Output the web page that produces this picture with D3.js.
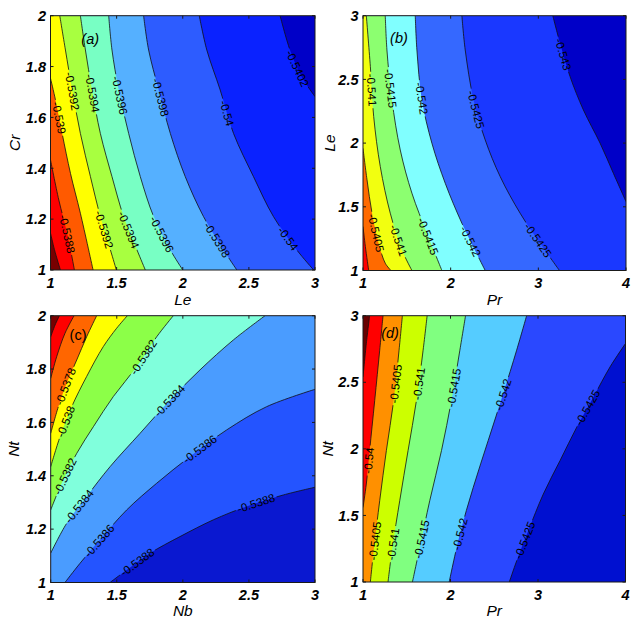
<!DOCTYPE html>
<html><head><meta charset="utf-8">
<script src="https://cdn.jsdelivr.net/npm/d3@7"></script>
<style>body{margin:0;background:#fff}svg{display:block}</style>
</head><body>
<svg id="chart" width="640" height="626"></svg>
<script>
// ================= DATA =================
// Panel (a): Cr vs Le
const aXLabel = "Le", aYLabel = "Cr", aTag = "(a)";
const aXDomain = [1, 3], aYDomain = [1, 2];
const aXTicks = [1, 1.5, 2, 2.5, 3];
const aYTicks = [1, 1.2, 1.4, 1.6, 1.8, 2];
const aLevels = [-0.5386, -0.5388, -0.539, -0.5392, -0.5394, -0.5396, -0.5398, -0.54, -0.5402];
const aLines = [
  [[1,1.145],[1.03,1.08],[1.075,1]],
  [[1,1.433],[1.063,1.275],[1.126,1.144],[1.181,1]],
  [[1,1.754],[1.038,1.668],[1.088,1.537],[1.151,1.38],[1.226,1.223],[1.322,1]],
  [[1.07,2],[1.113,1.865],[1.164,1.708],[1.226,1.537],[1.302,1.367],[1.377,1.21],[1.453,1.079],[1.498,1]],
  [[1.226,2],[1.264,1.865],[1.314,1.708],[1.377,1.537],[1.465,1.367],[1.553,1.21],[1.654,1.079],[1.717,1]],
  [[1.44,2],[1.465,1.865],[1.516,1.708],[1.591,1.537],[1.679,1.367],[1.78,1.21],[1.906,1.079],[2.0,1]],
  [[1.704,2],[1.742,1.865],[1.818,1.708],[1.906,1.537],[2.019,1.367],[2.157,1.21],[2.308,1.079],[2.409,1]],
  [[2.125,2],[2.182,1.865],[2.283,1.708],[2.384,1.537],[2.535,1.367],[2.686,1.21],[2.862,1.079],[2.99,1]],
  [[2.736,2],[2.811,1.865],[2.899,1.76],[3,1.682]]
];
const aLabels = [[2,1.038,1.596],[3,1.151,1.701],[4,1.314,1.695],[5,1.541,1.688],[6,1.855,1.682],[7,2.333,1.616],[8,2.899,1.8],
  [1,1.10,1.138],[3,1.39,1.157],[4,1.591,1.157],[5,1.881,1.151],[6,2.258,1.118],[7,2.799,1.125]];

// Panel (b): Le vs Pr
const bXLabel = "Pr", bYLabel = "Le", bTag = "(b)";
const bXDomain = [1, 4], bYDomain = [1, 3];
const bXTicks = [1, 2, 3, 4];
const bYTicks = [1, 1.5, 2, 2.5, 3];
const bLevels = [-0.54, -0.5405, -0.541, -0.5415, -0.542, -0.5425, -0.543];
const bLines = [
  [[1,1.345],[1.027,1.188],[1.065,1]],
  [[1,1.959],[1.046,1.711],[1.103,1.45],[1.178,1.214],[1.254,1.057],[1.319,1]],
  [[1.038,3],[1.084,2.6],[1.122,2.208],[1.197,1.816],[1.311,1.45],[1.444,1.162],[1.558,1]],
  [[1.254,3],[1.273,2.731],[1.33,2.339],[1.425,1.946],[1.558,1.607],[1.729,1.293],[1.9,1]],
  [[1.596,3],[1.615,2.731],[1.672,2.339],[1.786,1.999],[1.938,1.685],[2.128,1.371],[2.394,1]],
  [[2.128,3],[2.166,2.731],[2.261,2.339],[2.394,2.025],[2.565,1.737],[2.792,1.45],[3.02,1.214],[3.241,1]],
  [[3.165,3],[3.248,2.783],[3.362,2.522],[3.514,2.26],[3.704,2.0],[3.856,1.763],[4,1.541]]
];
const bLabels = [[2,1.084,2.417],[3,1.311,2.43],[4,1.672,2.352],[5,2.261,2.26],[6,3.248,2.691],
  [1,1.141,1.293],[2,1.406,1.24],[3,1.691,1.254],[4,2.185,1.214],[5,2.944,1.214]];

// Panel (c): Nt vs Nb
const cXLabel = "Nb", cYLabel = "Nt", cTag = "(c)";
const cXDomain = [1, 3], cYDomain = [1, 2];
const cXTicks = [1, 1.5, 2, 2.5, 3];
const cYTicks = [1, 1.2, 1.4, 1.6, 1.8, 2];
const cLevels = [-0.5374, -0.5376, -0.5378, -0.538, -0.5382, -0.5384, -0.5386, -0.5388];
const cLines = [
  [[1,1.921],[1.033,1.965],[1.066,2]],
  [[1,1.765],[1.045,1.846],[1.108,1.934],[1.177,2]],
  [[1,1.559],[1.058,1.659],[1.121,1.747],[1.197,1.834],[1.272,1.921],[1.348,2]],
  [[1,1.434],[1.071,1.547],[1.159,1.659],[1.272,1.772],[1.398,1.884],[1.499,1.953],[1.58,2]],
  [[1,1.272],[1.083,1.372],[1.197,1.484],[1.323,1.584],[1.474,1.697],[1.651,1.809],[1.802,1.921],[1.928,2]],
  [[1,1.11],[1.121,1.222],[1.272,1.322],[1.449,1.434],[1.676,1.559],[1.903,1.684],[2.13,1.797],[2.382,1.909],[2.622,2]],
  [[1.108,1],[1.222,1.072],[1.373,1.16],[1.575,1.272],[1.802,1.372],[2.054,1.472],[2.332,1.572],[2.634,1.659],[3,1.724]],
  [[1.449,1],[1.575,1.047],[1.752,1.11],[1.978,1.172],[2.231,1.235],[2.483,1.285],[2.76,1.328],[3,1.357]]
];
const cLabels = [[2,1.146,1.728],[3,1.171,1.591],[4,1.159,1.385],[4,1.714,1.84],[5,1.235,1.278],[5,1.865,1.697],
  [6,1.361,1.16],[6,2.117,1.509],[7,1.663,1.072],[7,2.546,1.31]];

// Panel (d): Nt vs Pr
const dXLabel = "Pr", dYLabel = "Nt", dTag = "(d)";
const dXDomain = [1, 4], dYDomain = [1, 3];
const dXTicks = [1, 2, 3, 4];
const dYTicks = [1, 1.5, 2, 2.5, 3];
const dLevels = [-0.5395, -0.54, -0.5405, -0.541, -0.5415, -0.542, -0.5425];
const dLines = [
  [[1.076,3],[1.038,2.791],[1,2.54]],
  [[1.229,3],[1.191,2.741],[1.134,2.364],[1.076,1.987],[1.038,1.736],[1,1.56]],
  [[1.45,3],[1.412,2.741],[1.351,2.364],[1.267,1.987],[1.191,1.611],[1.126,1.259],[1.084,1]],
  [[1.733,3],[1.687,2.741],[1.611,2.364],[1.515,1.987],[1.42,1.611],[1.336,1.259],[1.286,1]],
  [[2.172,3],[2.107,2.741],[2.011,2.364],[1.897,1.987],[1.763,1.611],[1.649,1.259],[1.565,1]],
  [[2.87,3],[2.756,2.741],[2.603,2.415],[2.431,2.063],[2.26,1.711],[2.107,1.359],[1.985,1]],
  [[4,2.791],[3.824,2.616],[3.634,2.389],[3.443,2.163],[3.252,1.912],[3.061,1.661],[2.889,1.384],[2.756,1.158],[2.672,1]]
];
const dLabels = [[1,1.076,1.912],[2,1.324,2.49],[2,1.134,1.309],[3,1.611,2.49],[3,1.363,1.284],[4,1.992,2.465],
  [4,1.649,1.322],[5,2.565,2.415],[5,2.107,1.359],[6,3.557,2.314],[6,2.87,1.309]];

// ================= STYLE / LAYOUT =================
const aColors = ["#780000","#ff0000","#ff5a00","#ffff00","#a8ff40","#78ffc4","#55b0ff","#2d5cff","#0a22ff","#0000c8"];
const bColors = ["#ff0000","#ff6a00","#f2ff10","#8cff70","#80ffff","#3568ff","#1a38ff","#0000c8"];
const cColors = ["#780000","#ff0000","#ff6600","#ffff00","#8cff48","#80ffdc","#4a9cff","#2454ff","#0a18d0"];
const dColors = ["#680000","#ff0000","#ff9000","#ccff00","#80ff80","#55ccff","#2a48ff","#0010d0"];

const panels = [
  {xLabel:aXLabel, yLabel:aYLabel, tag:aTag, tagPos:[1.30,1.91], tagItalic:true, xDomain:aXDomain, yDomain:aYDomain,
   xTicks:aXTicks, yTicks:aYTicks, levels:aLevels, lines:aLines, labels:aLabels, colors:aColors, anchor:0,
   box:[50.5,315,15.7,270], xLabelY:304.5, yLabelX:14},
  {xLabel:bXLabel, yLabel:bYLabel, tag:bTag, tagPos:[1.41,2.825], tagItalic:true, xDomain:bXDomain, yDomain:bYDomain,
   xTicks:bXTicks, yTicks:bYTicks, levels:bLevels, lines:bLines, labels:bLabels, colors:bColors, anchor:0,
   box:[363,626,15.7,270.5], xLabelY:304.5, yLabelX:329},
  {xLabel:cXLabel, yLabel:cYLabel, tag:cTag, tagPos:[1.207,1.928], tagItalic:false, xDomain:cXDomain, yDomain:cYDomain,
   xTicks:cXTicks, yTicks:cYTicks, levels:cLevels, lines:cLines, labels:cLabels, colors:cColors, anchor:3,
   box:[50.7,315,315.7,582.5], xLabelY:616, yLabelX:13},
  {xLabel:dXLabel, yLabel:dYLabel, tag:dTag, tagPos:[1.309,2.87], tagItalic:true, xDomain:dXDomain, yDomain:dYDomain,
   xTicks:dXTicks, yTicks:dYTicks, levels:dLevels, lines:dLines, labels:dLabels, colors:dColors, anchor:3,
   box:[363,625.5,315.7,582], xLabelY:616, yLabelX:327}
];

const FONT = "'Liberation Sans', Arial, Helvetica, sans-serif";
const svg = d3.select("#chart");
svg.append("rect").attr("width",640).attr("height",626).attr("fill","#fff");

function boundaryS(p, xd, yd) {
  const e = 1e-6, x = p[0], y = p[1];
  if (Math.abs(y - yd[0]) < e) return (x - xd[0]) / (xd[1] - xd[0]);
  if (Math.abs(x - xd[1]) < e) return 1 + (y - yd[0]) / (yd[1] - yd[0]);
  if (Math.abs(y - yd[1]) < e) return 2 + (xd[1] - x) / (xd[1] - xd[0]);
  return 3 + (yd[1] - y) / (yd[1] - yd[0]);
}
const mod4 = v => ((v % 4) + 4) % 4;
function closingCorners(line, anchor, xd, yd) {
  const corners = [[xd[0],yd[0]],[xd[1],yd[0]],[xd[1],yd[1]],[xd[0],yd[1]]];
  const sA = boundaryS(line[0], xd, yd), sB = boundaryS(line[line.length-1], xd, yd);
  const span = mod4(sA - sB);
  const ccw = [0,1,2,3].filter(c => mod4(c - sB) > 0 && mod4(c - sB) < span)
    .sort((p,q) => mod4(p - sB) - mod4(q - sB));
  if (ccw.includes(anchor)) return ccw.map(c => corners[c]);
  const spanCw = mod4(sB - sA);
  const cw = [0,1,2,3].filter(c => mod4(sB - c) > 0 && mod4(sB - c) < spanCw)
    .sort((p,q) => mod4(sB - p) - mod4(sB - q));
  return cw.map(c => corners[c]);
}

panels.forEach((P, pi) => {
  const [L, R, T, B] = P.box;
  const xs = d3.scaleLinear().domain(P.xDomain).range([L, R]);
  const ys = d3.scaleLinear().domain(P.yDomain).range([B, T]);
  const g = svg.append("g");
  const clipId = "clip" + pi, maskId = "mask" + pi;
  const defs = svg.append("defs");
  defs.append("clipPath").attr("id", clipId).append("rect")
    .attr("x", L).attr("y", T).attr("width", R - L).attr("height", B - T);

  const lineGen = d3.line().x(d => xs(d[0])).y(d => ys(d[1])).curve(d3.curveCatmullRom.alpha(0.5));

  // filled regions
  const fills = g.append("g").attr("clip-path", `url(#${clipId})`);
  const n = P.lines.length;
  fills.append("rect").attr("x", L).attr("y", T).attr("width", R - L).attr("height", B - T)
    .attr("fill", P.colors[n]);
  for (let k = n - 1; k >= 0; k--) {
    const ln = P.lines[k];
    const cs = closingCorners(ln, P.anchor, P.xDomain, P.yDomain);
    const dStr = lineGen(ln) + cs.map(c => `L${xs(c[0])},${ys(c[1])}`).join("") + "Z";
    fills.append("path").attr("d", dStr).attr("fill", P.colors[k]);
  }

  // contour lines (masked at labels)
  const mask = defs.append("mask").attr("id", maskId).attr("maskUnits", "userSpaceOnUse")
    .attr("x", 0).attr("y", 0).attr("width", 640).attr("height", 626);
  mask.append("rect").attr("x", 0).attr("y", 0).attr("width", 640).attr("height", 626).attr("fill", "#fff");
  const strokes = g.append("g").attr("clip-path", `url(#${clipId})`)
    .append("g").attr("mask", `url(#${maskId})`);
  const pathNodes = P.lines.map(ln => strokes.append("path").attr("d", lineGen(ln))
    .attr("fill", "none").attr("stroke", "#111").attr("stroke-width", 0.8).node());

  // contour labels
  const labG = g.append("g");
  P.labels.forEach(([k, lx, ly]) => {
    const node = pathNodes[k];
    const len = node.getTotalLength();
    const tx = xs(lx), ty = ys(ly);
    let best = 0, bd = Infinity;
    for (let s = 0; s <= len; s += 0.5) {
      const p = node.getPointAtLength(s);
      const dd = (p.x - tx) ** 2 + (p.y - ty) ** 2;
      if (dd < bd) { bd = dd; best = s; }
    }
    const p = node.getPointAtLength(best);
    const p1 = node.getPointAtLength(Math.max(0, best - 5));
    const p2 = node.getPointAtLength(Math.min(len, best + 5));
    let ang = Math.atan2(p2.y - p1.y, p2.x - p1.x) * 180 / Math.PI;
    if (ang > 90) ang -= 180;
    if (ang < -90) ang += 180;
    const t = labG.append("text")
      .attr("transform", `translate(${p.x},${p.y}) rotate(${ang})`)
      .attr("text-anchor", "middle").attr("dy", "0.36em")
      .attr("font-family", FONT).attr("font-size", 11.5).attr("fill", "#000")
      .text(String(P.levels[k]));
    const w = t.node().getComputedTextLength() + 4;
    mask.append("rect").attr("x", -w / 2).attr("y", -5).attr("width", w).attr("height", 10)
      .attr("transform", `translate(${p.x},${p.y}) rotate(${ang})`).attr("fill", "#000");
  });

  // panel tag
  g.append("text").attr("x", xs(P.tagPos[0])).attr("y", ys(P.tagPos[1])).attr("dy", "0.35em")
    .attr("text-anchor", "middle").attr("font-family", FONT).attr("font-size", 14.5)
    .attr("font-style", P.tagItalic ? "italic" : "normal").text(P.tag);

  // box and ticks
  const ax = g.append("g").attr("stroke", "#1a1a1a").attr("stroke-width", 1);
  ax.append("rect").attr("x", L).attr("y", T).attr("width", R - L).attr("height", B - T).attr("fill", "none");
  const tl = 3;
  P.xTicks.forEach(v => {
    ax.append("line").attr("x1", xs(v)).attr("x2", xs(v)).attr("y1", B).attr("y2", B - tl);
    ax.append("line").attr("x1", xs(v)).attr("x2", xs(v)).attr("y1", T).attr("y2", T + tl);
  });
  P.yTicks.forEach(v => {
    ax.append("line").attr("x1", L).attr("x2", L + tl).attr("y1", ys(v)).attr("y2", ys(v));
    ax.append("line").attr("x1", R).attr("x2", R - tl).attr("y1", ys(v)).attr("y2", ys(v));
  });

  // tick labels
  const tg = g.append("g").attr("font-family", FONT).attr("font-size", 14.5)
    .attr("font-weight", "bold").attr("font-style", "italic").attr("fill", "#000");
  P.xTicks.forEach(v => tg.append("text").attr("x", xs(v)).attr("y", B + 17.5)
    .attr("text-anchor", "middle").text(String(v)));
  P.yTicks.forEach(v => tg.append("text").attr("x", L - 4.5).attr("y", ys(v)).attr("dy", "0.36em")
    .attr("text-anchor", "end").text(String(v)));

  // axis labels
  g.append("text").attr("x", (L + R) / 2).attr("y", P.xLabelY).attr("text-anchor", "middle")
    .attr("font-family", FONT).attr("font-size", 15.5).attr("font-style", "italic").text(P.xLabel);
  g.append("text").attr("transform", `translate(${P.yLabelX},${(T + B) / 2}) rotate(-90)`)
    .attr("text-anchor", "middle").attr("dy", "0.36em")
    .attr("font-family", FONT).attr("font-size", 15.5).attr("font-style", "italic").text(P.yLabel);
});
</script>
</body></html>
